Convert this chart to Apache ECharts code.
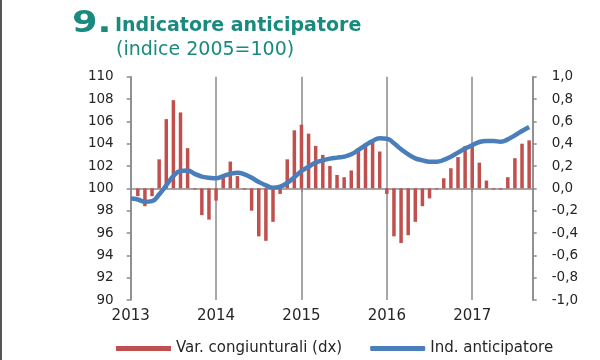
<!DOCTYPE html>
<html>
<head>
<meta charset="utf-8">
<script src="https://cdn.jsdelivr.net/npm/echarts@6/dist/echarts.min.js"></script>
<style>
html,body{margin:0;padding:0;background:#fff;}
#c{width:600px;height:360px;}
</style>
</head>
<body>
<div id="c"></div>
<script>
// Monthly data, Jan 2013 .. Sep 2017 (index 0 = Jan 2013)
const startYear = 2013;
const yearLabels = ['2013', '2014', '2015', '2016', '2017'];
const varCongiunturali = [
  0, -0.07, -0.16, -0.07, 0.26, 0.62, 0.79, 0.68, 0.36, -0.01, -0.24, -0.28,
  -0.11, 0.10, 0.24, 0.11, -0.01, -0.20, -0.43, -0.47, -0.30, -0.05, 0.26, 0.52,
  0.57, 0.49, 0.38, 0.30, 0.20, 0.12, 0.10, 0.16, 0.34, 0.40, 0.43, 0.33,
  -0.05, -0.43, -0.49, -0.42, -0.30, -0.16, -0.09, -0.01, 0.09, 0.18, 0.28, 0.38,
  0.37, 0.23, 0.07, -0.01, -0.01, 0.10, 0.27, 0.40, 0.43
];
const indAnticipatore = [
  99.08, 99.0, 98.8, 98.86, 99.46, 100.27, 101.1, 101.55, 101.6, 101.3, 101.05, 100.95,
  100.9, 101.1, 101.3, 101.4, 101.25, 100.95, 100.57, 100.27, 100.06, 100.15, 100.5, 101.0,
  101.55, 101.94, 102.3, 102.51, 102.66, 102.75, 102.84, 103.05, 103.44, 103.86, 104.24, 104.48,
  104.45, 104.04, 103.5, 103.05, 102.69, 102.51, 102.39, 102.39, 102.54, 102.84, 103.2, 103.56,
  103.86, 104.15, 104.24, 104.24, 104.18, 104.39, 104.75, 105.14, 105.5
];

const FONT = 'DejaVu Sans';
const TEAL = '#1a8a7f';
const AXIS = '#8a8a8a';
const LABEL = '#262626';

const barData = varCongiunturali.map((v, i) => [i, v]);
const lineData = indAnticipatore.map((v, i) => [i, v]);

const chart = echarts.init(document.getElementById('c'));
chart.setOption({
  animation: false,
  backgroundColor: '#fff',
  grid: { left: 130.7, right: 67.3, top: 76.7, bottom: 60 },
  graphic: [
    { type: 'rect', shape: { x: 0, y: 0, width: 2, height: 360 }, style: { fill: '#555' } },
    { type: 'text', x: 72, y: 24, scaleX: 1.22, originX: 0, originY: 0,
      style: { text: '9.', font: '900 30px ' + FONT, fill: TEAL, verticalAlign: 'middle' } },
    { type: 'text', x: 115, y: 26,
      style: { text: 'Indicatore anticipatore', font: 'bold 19px ' + FONT, fill: TEAL, verticalAlign: 'middle' } },
    { type: 'text', x: 116, y: 50,
      style: { text: '(indice 2005=100)', font: '19px ' + FONT, fill: TEAL, verticalAlign: 'middle' } }
  ],
  legend: {
    left: 116, top: 341, padding: 0,
    itemWidth: 55, itemHeight: 5, itemGap: 28,
    textStyle: { fontFamily: FONT, fontSize: 15, color: LABEL },
    data: [
      { name: 'Var. congiunturali (dx)', icon: 'rect' },
      { name: 'Ind. anticipatore', icon: 'roundRect' }
    ]
  },
  xAxis: {
    type: 'value', min: 0, max: 56.5, interval: 12,
    axisLine: { show: true, lineStyle: { color: AXIS, width: 1.5 } },
    axisTick: { show: true, length: 4, lineStyle: { color: AXIS, width: 1.5 } },
    splitLine: { show: true, lineStyle: { color: AXIS, width: 1.5 } },
    axisLabel: {
      showMaxLabel: false, margin: 9,
      fontFamily: FONT, fontSize: 15, color: LABEL,
      formatter: v => (v % 12 === 0 ? yearLabels[v / 12] || String(startYear + v / 12) : '')
    }
  },
  yAxis: [
    {
      type: 'value', min: 90, max: 110, interval: 2, position: 'left',
      axisLine: { show: true, lineStyle: { color: AXIS, width: 1.5 } },
      axisTick: { show: true, length: 4, lineStyle: { color: AXIS, width: 1.5 } },
      splitLine: { show: false },
      axisLabel: { margin: 17, fontFamily: FONT, fontSize: 13.5, color: LABEL }
    },
    {
      type: 'value', min: -1, max: 1, interval: 0.2, position: 'right',
      axisLine: { show: true, lineStyle: { color: AXIS, width: 1.5 } },
      axisTick: { show: true, length: 4, lineStyle: { color: AXIS, width: 1.5 } },
      splitLine: { show: false },
      axisLabel: {
        margin: 19, fontFamily: FONT, fontSize: 13.5, color: LABEL,
        formatter: v => v.toFixed(1).replace('.', ',')
      }
    }
  ],
  series: [
    {
      name: 'Var. congiunturali (dx)', type: 'bar', yAxisIndex: 1,
      data: barData, barWidth: 3.5,
      itemStyle: { color: '#c0504d' }
    },
    {
      name: 'Ind. anticipatore', type: 'line', yAxisIndex: 0,
      data: lineData, smooth: 0.5, showSymbol: false, symbol: 'none',
      lineStyle: { color: '#4a7ebb', width: 4.5 },
      itemStyle: { color: '#4a7ebb' }
    }
  ]
});
</script>
</body>
</html>
